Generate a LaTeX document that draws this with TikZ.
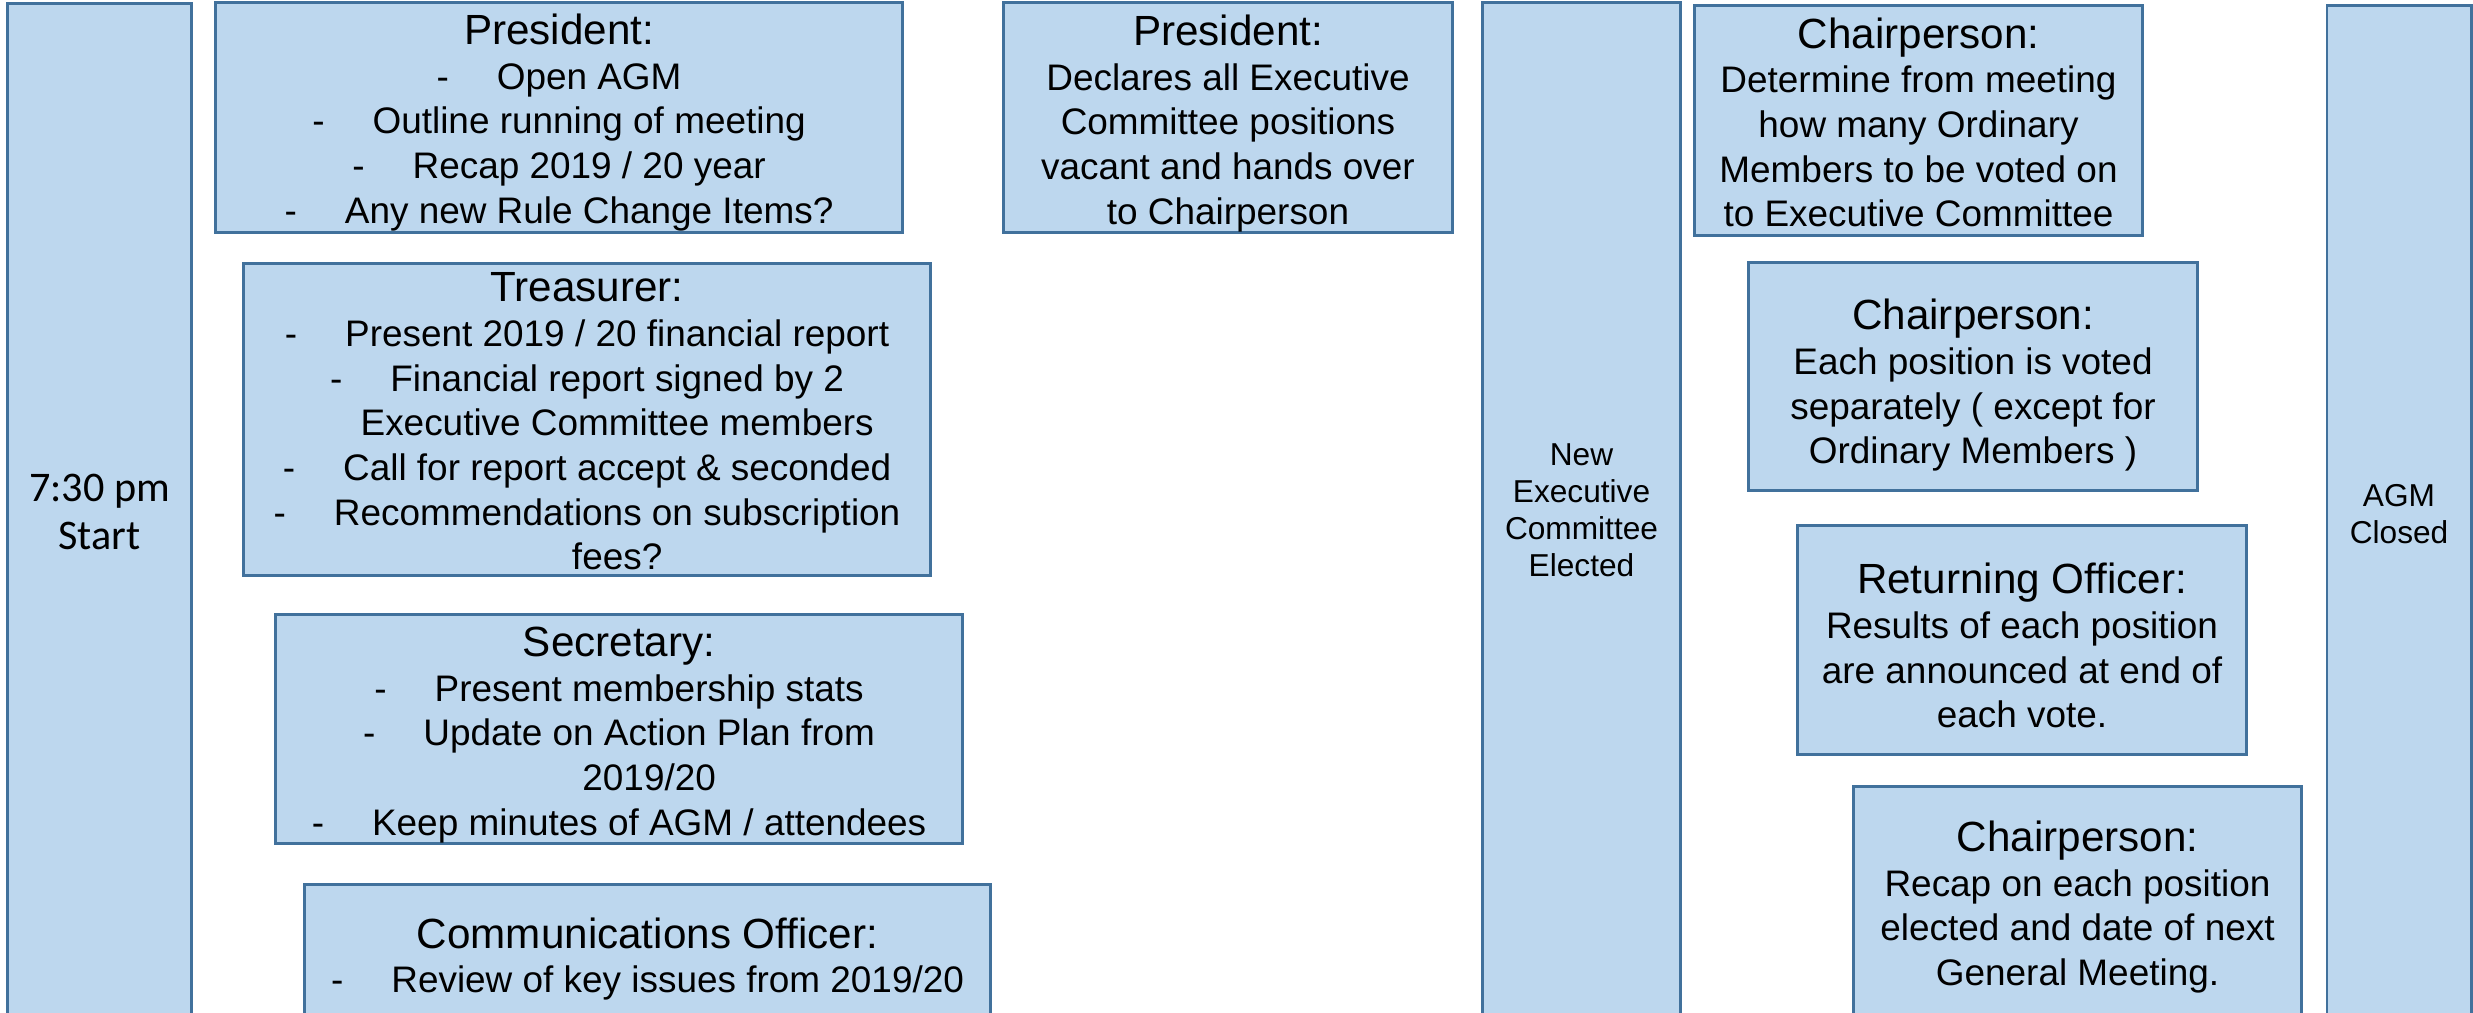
\documentclass[tikz,border=0pt]{standalone}
\usepackage{fontspec}
\setmainfont{Liberation Sans}
\newfontfamily\calfont{Carlito}
\usepackage{tikz}
\definecolor{boxfill}{HTML}{BDD7EE}
\definecolor{boxline}{HTML}{41719C}
\newcommand{\dsh}{-\hspace{1.3em}}
\newcommand{\cnt}{\hphantom{-\hspace{1.3em}}}
\newcommand{\ttl}[2][0pt]{{\fontsize{12pt}{12.7pt}\selectfont\rule{0pt}{#1}#2}}

\begin{document}
\begin{tikzpicture}[x=0.01cm, y=-0.01cm, %1 unit = 1 px of the slide
	box/.style={draw=boxline, fill=boxfill, line width=0.85pt, inner sep=0pt, align=center, font=\fontsize{10.5pt}{12.7pt}\selectfont},
	col/.style={box, font=\fontsize{9pt}{10.5pt}\selectfont}]
	\useasboundingbox (0,0) rectangle (2473,1013);
	\clip (0,0) rectangle (2473,1013);
	% time line columns
	\node[col, minimum width=1.83cm, minimum height=10.16cm, font=\calfont\fontsize{12pt}{13.6pt}\selectfont] (start) at (99.5,512) {7:30 pm\\Start};
	\node[col, minimum width=1.97cm, minimum height=10.14cm] (elected) at (1581.5,510) {New\\Executive\\Committee\\Elected};
	\node[col, minimum width=1.44cm, minimum height=10.16cm] (closed) at (2399,514) {AGM\\Closed};
	% reports
	\node[box, minimum width=6.86cm, minimum height=2.29cm] (pres) at (559,117.5)
		{\ttl[11.4pt]{President:}\\ \dsh Open AGM\\ \dsh Outline running of meeting\\ \dsh Recap 2019 / 20 year\\ \dsh Any new Rule Change Items?};
	\node[box, minimum width=6.86cm, minimum height=3.11cm] (treas) at (587,419.5)
		{\ttl[9.4pt]{Treasurer:}\\ \dsh Present 2019 / 20 financial report\\ \dsh Financial report signed by 2\\ \cnt Executive Committee members\\ \dsh Call for report accept \& seconded\\ \dsh Recommendations on subscription\\ \cnt fees?};
	\node[box, minimum width=6.86cm, minimum height=2.28cm] (secr) at (619,729)
		{\ttl[11.8pt]{Secretary:}\\ \dsh Present membership stats\\ \dsh Update on Action Plan from\\ \cnt 2019/20\\ \dsh Keep minutes of AGM / attendees};
	\node[box, minimum width=6.85cm, minimum height=1.48cm] (comms) at (647.5,959)
		{\ttl{Communications Officer:}\\ \dsh Review of key issues from 2019/20};
	% elections
	\node[box, minimum width=4.48cm, minimum height=2.29cm] (vacant) at (1228,117.5)
		{\ttl[12pt]{President:}\\ Declares all Executive\\ Committee positions\\ vacant and hands over\\ to Chairperson};
	\node[box, minimum width=4.47cm, minimum height=2.29cm] (chairA) at (1918.5,120.5)
		{\ttl[9.7pt]{Chairperson:}\\ Determine from meeting\\ how many Ordinary\\ Members to be voted on\\ to Executive Committee};
	\node[box, minimum width=4.48cm, minimum height=2.27cm] (chairB) at (1973,376.5)
		{\ttl[13.7pt]{Chairperson:}\\ Each position is voted\\ separately ( except for\\ Ordinary Members )};
	\node[box, minimum width=4.48cm, minimum height=2.28cm] (retoff) at (2022,640)
		{\ttl[12pt]{Returning Officer:}\\ Results of each position\\ are announced at end of\\ each vote.};
	\node[box, minimum width=4.47cm, minimum height=2.40cm] (chairC) at (2077.5,907)
		{\ttl{Chairperson:}\\ Recap on each position\\ elected and date of next\\ General Meeting.};
\end{tikzpicture}
\end{document}
